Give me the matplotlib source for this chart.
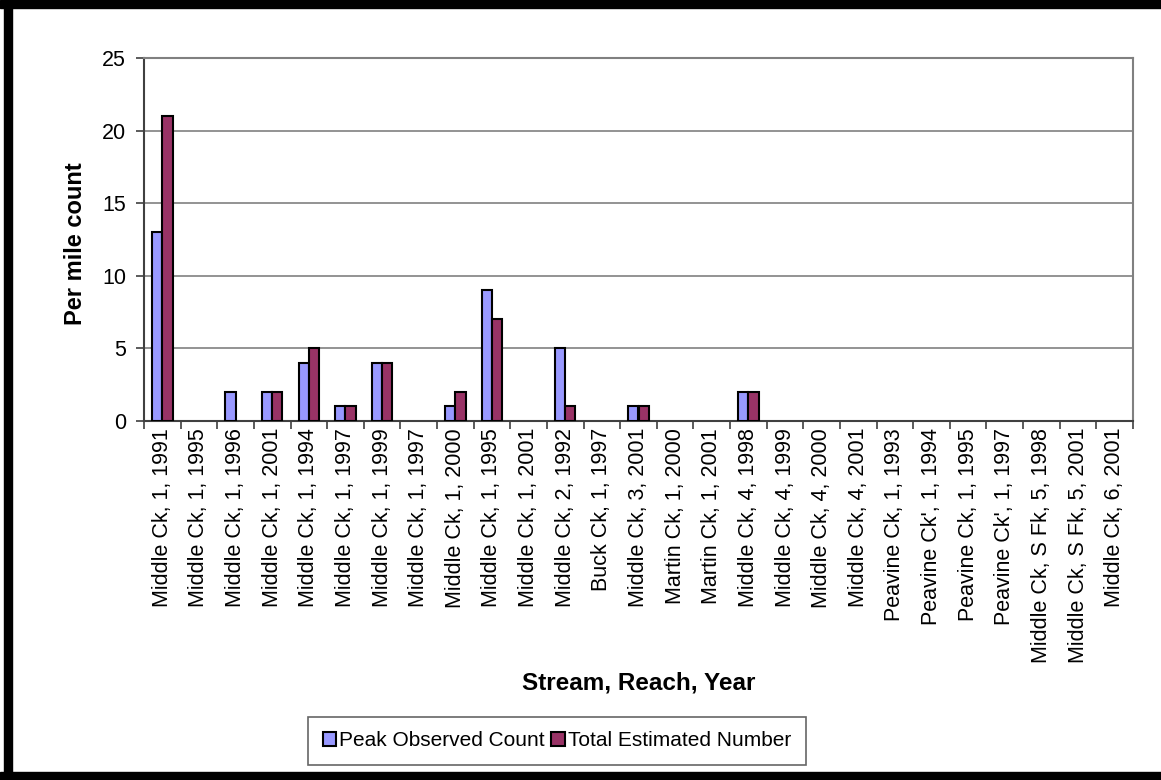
import numpy as np
import matplotlib
matplotlib.use("Agg")
import matplotlib.pyplot as plt
from matplotlib.patches import Rectangle

plt.rcParams['font.family'] = ['Liberation Sans', 'DejaVu Sans']

categories = [
    "Middle Ck, 1, 1991", "Middle Ck, 1, 1995", "Middle Ck, 1, 1996",
    "Middle Ck, 1, 2001", "Middle Ck, 1, 1994", "Middle Ck, 1, 1997",
    "Middle Ck, 1, 1999", "Middle Ck, 1, 1997", "Middle Ck, 1, 2000",
    "Middle Ck, 1, 1995", "Middle Ck, 1, 2001", "Middle Ck, 2, 1992",
    "Buck Ck, 1, 1997", "Middle Ck, 3, 2001", "Martin Ck, 1, 2000",
    "Martin Ck, 1, 2001", "Middle Ck, 4, 1998", "Middle Ck, 4, 1999",
    "Middle Ck, 4, 2000", "Middle Ck, 4, 2001", "Peavine Ck, 1, 1993",
    "Peavine Ck', 1, 1994", "Peavine Ck, 1, 1995", "Peavine Ck', 1, 1997",
    "Middle Ck, S Fk, 5, 1998", "Middle Ck, S Fk, 5, 2001", "Middle Ck, 6, 2001",
]
peak_observed = [13, 0, 2, 2, 4, 1, 4, 0, 1, 9, 0, 5, 0, 1, 0, 0, 2,
                 0, 0, 0, 0, 0, 0, 0, 0, 0, 0]
total_estimated = [21, 0, 0, 2, 5, 1, 4, 0, 2, 7, 0, 1, 0, 1, 0, 0, 2,
                   0, 0, 0, 0, 0, 0, 0, 0, 0, 0]

W, H = 1161, 780
fig = plt.figure(figsize=(W / 100, H / 100), dpi=100)

# black frame (right side is cut off in the original)
for (x0, y0, w, h) in [(0, 772, W, 8), (4, 0, 8, H), (0, 0, W, 8)]:
    fig.patches.append(Rectangle((x0 / W, 1 - (y0 + h) / H), w / W, h / H,
                                 transform=fig.transFigure, color="black", zorder=10))

left, right, top, bottom = 144, 1133, 58, 421
ax = fig.add_axes([left / W, 1 - bottom / H, (right - left) / W, (bottom - top) / H])

x = np.arange(len(categories))
bw = 0.28
lw1 = [1.5 if v > 0 else 0 for v in peak_observed]
lw2 = [1.5 if v > 0 else 0 for v in total_estimated]
ax.bar(x - bw / 2, peak_observed, bw, color="#9999FF", edgecolor="black",
       linewidth=lw1, label="Peak Observed Count", zorder=3)
ax.bar(x + bw / 2, total_estimated, bw, color="#993366", edgecolor="black",
       linewidth=lw2, label="Total Estimated Number", zorder=3)

ax.set_xlim(-0.5, len(categories) - 0.5)
ax.set_ylim(0, 25)
ax.set_yticks([0, 5, 10, 15, 20, 25])
ax.yaxis.grid(True, color="#808080", linewidth=1.2, zorder=0)

ax.set_xticks(x)
ax.set_xticklabels(categories, rotation=90, fontsize=15.5, va="top")
ax.set_xticks(np.arange(len(categories) + 1) - 0.5, minor=True)
ax.tick_params(axis="x", which="major", length=0, pad=5)
ax.tick_params(axis="x", which="minor", length=6, width=1.2, color="#404040", direction="out")
ax.tick_params(axis="y", length=6, width=1.2, color="#404040", direction="out",
               labelsize=15.5, pad=7)

for s in ["top", "right"]:
    ax.spines[s].set_color("#808080")
    ax.spines[s].set_linewidth(1.5)
for s in ["left", "bottom"]:
    ax.spines[s].set_color("#404040")
    ax.spines[s].set_linewidth(1.5)

fig.text(75 / W, 1 - 244 / H, "Per mile count", rotation=90, fontsize=17,
         fontweight="bold", ha="center", va="center")
fig.text(639 / W, 1 - 683 / H, "Stream, Reach, Year", fontsize=17.5,
         fontweight="bold", ha="center", va="center")

leg = fig.legend(loc="center", bbox_to_anchor=(557 / W, 1 - 741 / H), ncol=2,
                 fontsize=15, frameon=True, fancybox=False,
                 handlelength=0.65, handleheight=0.65, handletextpad=0.15,
                 columnspacing=0.3, borderpad=0.7, borderaxespad=0)
leg.get_frame().set_edgecolor("#404040")
leg.get_frame().set_linewidth(1.2)

fig.savefig("out.png", dpi=100)
